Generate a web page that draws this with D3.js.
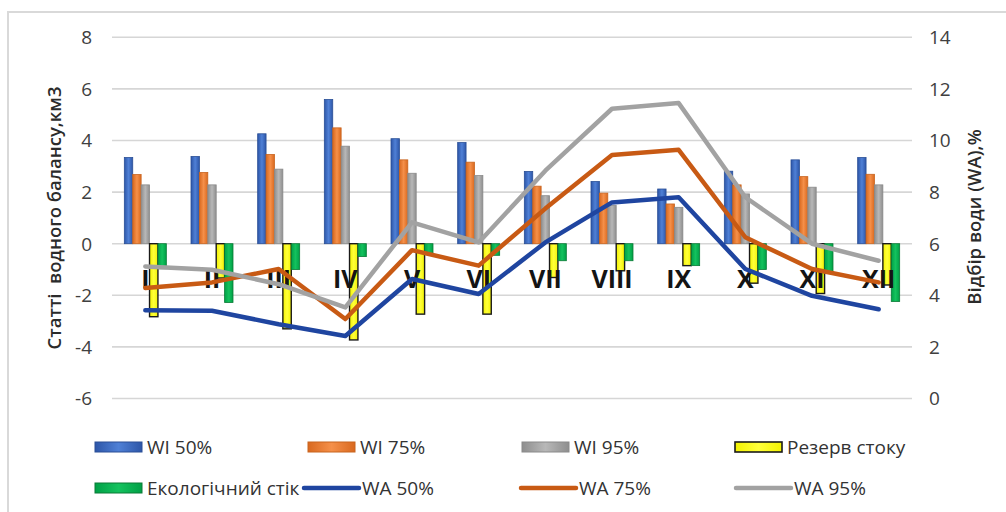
<!DOCTYPE html>
<html lang="uk">
<head>
<meta charset="utf-8">
<script src="https://cdn.jsdelivr.net/npm/d3@7"></script>
<style>
  html, body { margin: 0; padding: 0; background: #fff; }
  svg { display: block; }
  text { font-family: "Open Sans", "DejaVu Sans", sans-serif; }
</style>
</head>
<body>
<div id="chart"></div>
<script>
///// 1.  ДАНІ
const MONTHS  = ['I','II','III','IV','V','VI','VII','VIII','IX','X','XI','XII'];

// ліва вісь, км3
const WI50    = [3.34, 3.38, 4.26, 5.59, 4.07, 3.92, 2.80, 2.41, 2.12, 2.81, 3.25, 3.34];
const WI75    = [2.68, 2.76, 3.46, 4.49, 3.25, 3.16, 2.23, 1.96, 1.54, 2.28, 2.60, 2.69];
const WI95    = [2.28, 2.28, 2.89, 3.78, 2.73, 2.64, 1.86, 1.48, 1.41, 1.93, 2.19, 2.28];
const RESERVE = [-2.83, -1.33, -3.30, -3.73, -2.73, -2.73, -1.31, -1.05, -0.85, -1.53, -1.93, -1.60];
const ECO     = [-0.97, -2.28, -1.00, -0.50, -0.40, -0.45, -0.66, -0.66, -0.85, -1.00, -1.15, -2.24];

// права вісь, %
const WA50    = [3.42, 3.40, 2.88, 2.42, 4.63, 4.05, 6.05, 7.60, 7.80, 5.02, 3.98, 3.46];
const WA75    = [4.28, 4.50, 5.02, 3.08, 5.75, 5.15, 7.36, 9.44, 9.64, 6.25, 5.02, 4.50];
const WA95    = [5.12, 4.99, 4.43, 3.53, 6.83, 6.05, 8.83, 11.23, 11.45, 7.80, 6.00, 5.34];

const LEFT_TICKS  = [-6, -4, -2, 0, 2, 4, 6, 8];
const RIGHT_TICKS = [0, 2, 4, 6, 8, 10, 12, 14];

const BAR_SERIES = [
  { name: 'WI 50%',           values: WI50,    c0: '#2d56a8', c1: '#4f80d6', stroke: '#2a4f96' },
  { name: 'WI 75%',           values: WI75,    c0: '#d9691f', c1: '#f5904a', stroke: '#c8641f' },
  { name: 'WI 95%',           values: WI95,    c0: '#8e8e8e', c1: '#b8b8b8', stroke: '#8a8a8a' },
  { name: 'Резерв стоку',     values: RESERVE, c0: '#f2f200', c1: '#ffff3a', stroke: '#1a1a1a' },
  { name: 'Екологічний стік', values: ECO,     c0: '#00a046', c1: '#14c25e', stroke: '#0a7a36' }
];
const LINE_SERIES = [
  { name: 'WA 50%', values: WA50, color: '#1f45a0' },
  { name: 'WA 75%', values: WA75, color: '#c85a14' },
  { name: 'WA 95%', values: WA95, color: '#a2a2a2' }
];

///// 2.  ПОЛОТНО і ШКАЛИ
const W = 1006, H = 512;
const svg = d3.select('#chart').append('svg')
  .attr('width', W).attr('height', H);

const defs = svg.append('defs');
BAR_SERIES.forEach((s, i) => {
  const g = defs.append('linearGradient').attr('id', 'bar' + i)
    .attr('x1', '0%').attr('x2', '100%');
  g.append('stop').attr('offset', '0%').attr('stop-color', s.c0);
  g.append('stop').attr('offset', '50%').attr('stop-color', s.c1);
  g.append('stop').attr('offset', '100%').attr('stop-color', s.c0);
});

// рамка діаграми
svg.append('rect')
  .attr('x', 8).attr('y', 12).attr('width', 1010).attr('height', 520)
  .attr('fill', '#fff').attr('stroke', '#d9d9d9').attr('stroke-width', 2);

const x0 = d3.scaleBand().domain(MONTHS).range([112, 912])
  .paddingInner(0.37).paddingOuter(0.185);
const x1 = d3.scaleBand().domain(d3.range(BAR_SERIES.length))
  .range([0, x0.bandwidth()]);
const yL = d3.scaleLinear().domain([-6, 8]).range([398.5, 37.3]);
const yR = d3.scaleLinear().domain([0, 14]).range([398.5, 37.3]);

///// 3.  СІТКА і ОСІ
svg.append('g')
  .selectAll('line').data(LEFT_TICKS).join('line')
    .attr('x1', 112).attr('x2', 912)
    .attr('y1', d => yL(d)).attr('y2', d => yL(d))
    .attr('stroke', '#d6d6d6').attr('stroke-width', 1.6);

svg.append('g')
  .selectAll('text').data(LEFT_TICKS).join('text')
    .attr('x', 92).attr('y', d => yL(d))
    .attr('dy', '0.36em').attr('text-anchor', 'end')
    .attr('font-size', 19).attr('fill', '#404040')
    .text(d => d);

svg.append('g')
  .selectAll('text').data(RIGHT_TICKS).join('text')
    .attr('x', 929).attr('y', d => yR(d))
    .attr('dy', '0.36em').attr('text-anchor', 'start')
    .attr('font-size', 19).attr('fill', '#404040')
    .text(d => d);

svg.append('text')
  .attr('transform', 'translate(61,218) rotate(-90)')
  .attr('text-anchor', 'middle')
  .attr('font-size', 18.5).attr('font-weight', 600).attr('fill', '#2b2b2b')
  .style('white-space', 'pre')
  .text('Статті  водного балансу,км3');

svg.append('text')
  .attr('transform', 'translate(981,217) rotate(-90)')
  .attr('text-anchor', 'middle')
  .attr('font-size', 18.5).attr('font-weight', 600).attr('fill', '#2b2b2b')
  .text('Відбір води (WA),%');

///// 4.  СТОВПЧИКИ
const groups = svg.append('g')
  .selectAll('g').data(MONTHS).join('g')
    .attr('transform', m => `translate(${x0(m)},0)`);

groups.selectAll('rect')
  .data((m, mi) => BAR_SERIES.map((s, si) => ({ si, v: s.values[mi] })))
  .join('rect')
    .attr('x', d => x1(d.si))
    .attr('width', x1.bandwidth())
    .attr('y', d => yL(Math.max(0, d.v)))
    .attr('height', d => Math.abs(yL(d.v) - yL(0)))
    .attr('fill', d => `url(#bar${d.si})`)
    .attr('stroke', d => BAR_SERIES[d.si].stroke)
    .attr('stroke-width', d => d.si === 3 ? 1.4 : 0.8);

///// 5.  ПІДПИСИ МІСЯЦІВ
svg.append('g')
  .selectAll('text').data(MONTHS).join('text')
    .attr('x', m => x0(m) + x0.bandwidth() / 2)
    .attr('y', 288)
    .attr('text-anchor', 'middle')
    .attr('font-family', '"Liberation Sans Narrow", "Liberation Sans", sans-serif')
    .attr('font-weight', 'bold')
    .attr('font-size', 25).attr('fill', '#141414')
    .text(m => m);

///// 6.  ЛІНІЇ WA
const line = d3.line()
  .x((v, i) => x0(MONTHS[i]) + x0.bandwidth() / 2)
  .y(v => yR(v));

svg.append('g')
  .selectAll('path').data(LINE_SERIES).join('path')
    .attr('d', s => line(s.values))
    .attr('fill', 'none')
    .attr('stroke', s => s.color)
    .attr('stroke-width', 4.5)
    .attr('stroke-linejoin', 'round')
    .attr('stroke-linecap', 'round');

///// 7.  ЛЕГЕНДА
const legendItems = [
  ...BAR_SERIES.map((s, i) => ({ name: s.name, type: 'bar', i })),
  ...LINE_SERIES.map(s => ({ name: s.name, type: 'line', color: s.color }))
];
// другий рядок: WA 50% одразу після довгого підпису
const legPos = [
  [95, 447], [308, 447], [522, 447], [735, 447],
  [95, 488], [303, 488], [520, 488], [735, 488]
];

const leg = svg.append('g')
  .selectAll('g').data(legendItems).join('g')
    .attr('transform', (d, i) => `translate(${legPos[i][0]},${legPos[i][1]})`);

leg.filter(d => d.type === 'bar').append('rect')
  .attr('x', 0).attr('y', -5).attr('width', 47).attr('height', 10)
  .attr('fill', d => `url(#bar${d.i})`)
  .attr('stroke', d => BAR_SERIES[d.i].stroke)
  .attr('stroke-width', d => d.i === 3 ? 1.6 : 1);

leg.filter(d => d.type === 'line').append('line')
  .attr('x1', 1).attr('x2', 56).attr('y1', 0).attr('y2', 0)
  .attr('stroke', d => d.color).attr('stroke-width', 4.5)
  .attr('stroke-linecap', 'round');

leg.append('text')
  .attr('x', d => d.type === 'bar' ? 52 : 59)
  .attr('y', 0).attr('dy', '0.36em')
  .attr('font-size', 19).attr('fill', '#333')
  .text(d => d.name);
</script>
</body>
</html>
